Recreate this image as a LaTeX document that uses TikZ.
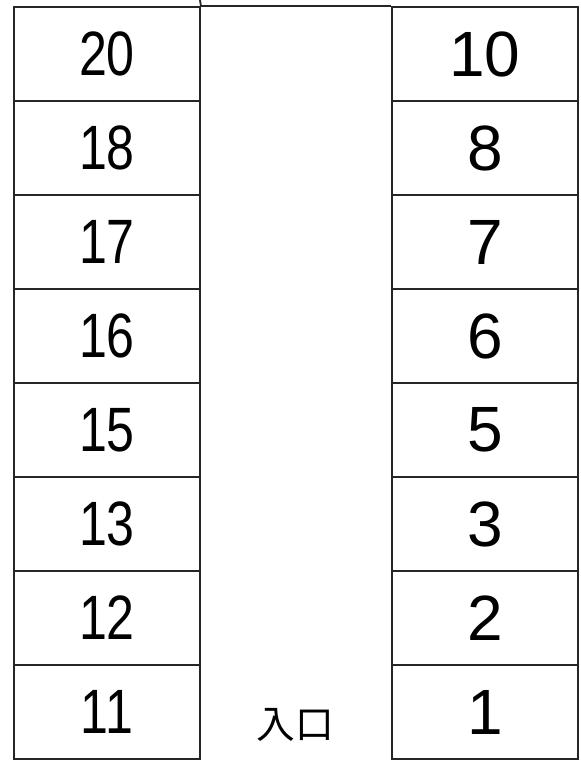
\documentclass[tikz,border=0pt]{standalone}
\usepackage{fontspec}
\usepackage{tikz}
\usetikzlibrary{positioning}
\newfontfamily\narrowdigits[FakeStretch=0.8]{Liberation Sans}
\newfontfamily\widedigits{Liberation Sans}
\newfontfamily\jpfont{Noto Sans CJK JP}

\begin{document}
\begin{tikzpicture}[
  x=0.75pt, y=-0.75pt,
  stall/.style={draw=black!85, line width=1.4pt, inner sep=0pt,
                minimum width=139.5pt, minimum height=70.5pt},
  leftno/.style={stall, font=\narrowdigits\fontsize{47}{47}\selectfont},
  rightno/.style={stall, font=\widedigits\fontsize{48}{48}\selectfont},
  wall/.style={draw=black!85, line width=1.4pt},
]
\useasboundingbox (0,0) rectangle (581,763);
%% left row of stalls
\foreach \lab [count=\i from 0] in {20,18,17,16,15,13,12,11}
  \node[leftno] (l\i) at (107,{54+94*\i}) {\lab};
%% right row of stalls
\foreach \lab [count=\i from 0] in {10,8,7,6,5,3,2,1}
  \node[rightno] (r\i) at (485,{54+94*\i}) {\lab};
%% top edge across the lane, post above it
\coordinate (post) at (200,0);
\draw[wall] (l0.north east) -- (r0.north west);
\draw[wall] (post) -- (l0.north east);
%% entrance
\node[font=\jpfont\fontsize{29}{29}\selectfont] (ent) at (295,725) {入口};
\end{tikzpicture}
\end{document}
